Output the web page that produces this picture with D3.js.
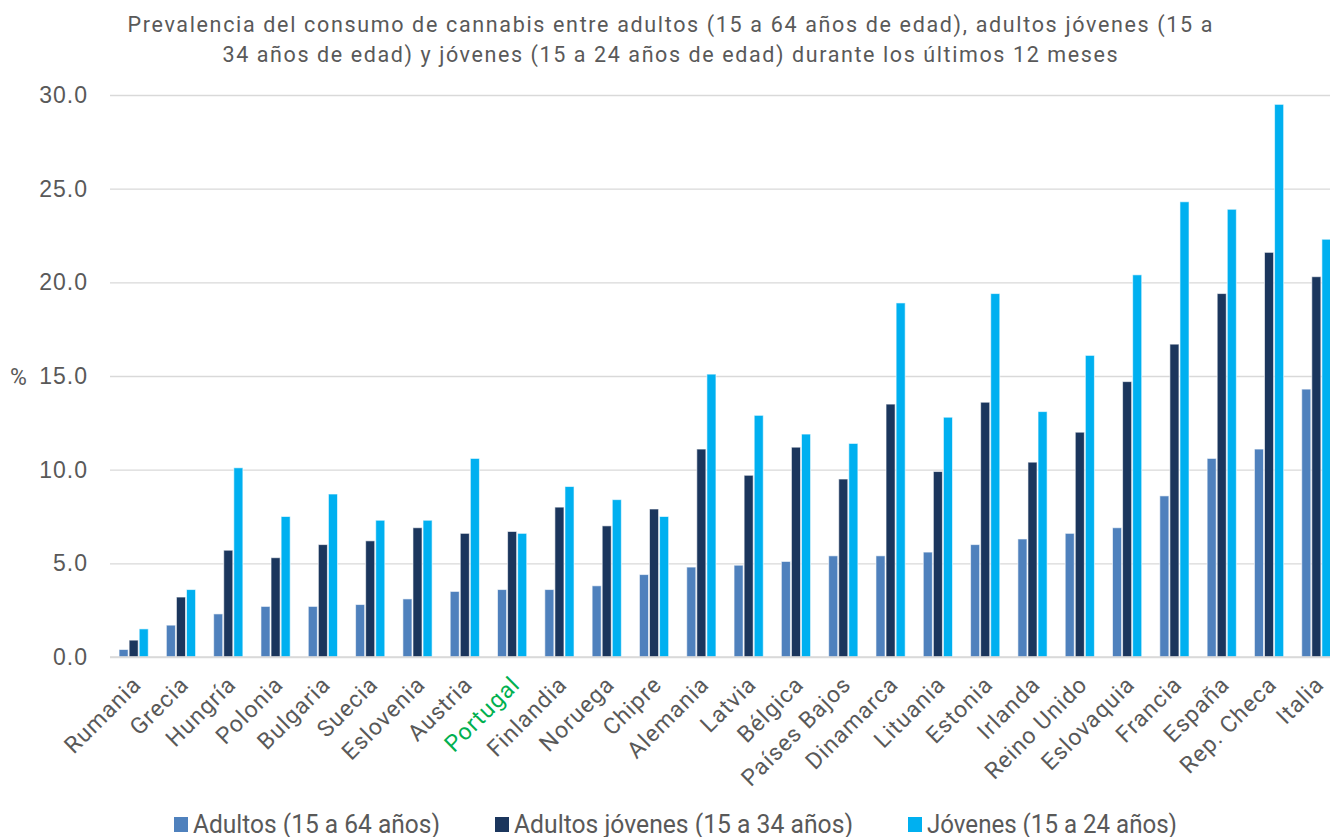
<!DOCTYPE html>
<html>
<head>
<meta charset="utf-8">
<script src="https://cdn.jsdelivr.net/npm/d3@7"></script>
<style>
  body { margin: 0; background: #fff; }
  svg { display: block; font-family: "Roboto", "Noto Sans", sans-serif; }
</style>
</head>
<body>
<svg id="chart" width="1330" height="837"></svg>
<script>
const countries = ["Rumania", "Grecia", "Hungría", "Polonia", "Bulgaria", "Suecia", "Eslovenia", "Austria",
  "Portugal", "Finlandia", "Noruega", "Chipre", "Alemania", "Latvia", "Bélgica", "Países Bajos",
  "Dinamarca", "Lituania", "Estonia", "Irlanda", "Reino Unido", "Eslovaquia", "Francia", "España",
  "Rep. Checa", "Italia"];

// Adultos (15 a 64 años)
const adultos = [0.4, 1.7, 2.3, 2.7, 2.7, 2.8, 3.1, 3.5, 3.6, 3.6, 3.8, 4.4, 4.8, 4.9, 5.1, 5.4,
  5.4, 5.6, 6.0, 6.3, 6.6, 6.9, 8.6, 10.6, 11.1, 14.3];
// Adultos jóvenes (15 a 34 años)
const adultosJovenes = [0.9, 3.2, 5.7, 5.3, 6.0, 6.2, 6.9, 6.6, 6.7, 8.0, 7.0, 7.9, 11.1, 9.7, 11.2, 9.5,
  13.5, 9.9, 13.6, 10.4, 12.0, 14.7, 16.7, 19.4, 21.6, 20.3];
// Jóvenes (15 a 24 años)
const jovenes = [1.5, 3.6, 10.1, 7.5, 8.7, 7.3, 7.3, 10.6, 6.6, 9.1, 8.4, 7.5, 15.1, 12.9, 11.9, 11.4,
  18.9, 12.8, 19.4, 13.1, 16.1, 20.4, 24.3, 23.9, 29.5, 22.3];

const seriesNames = ["Adultos (15 a 64 años)", "Adultos jóvenes (15 a 34 años)", "Jóvenes (15 a 24 años)"];
const seriesColors = ["#4f81bd", "#1b365d", "#00b0f0"];
const yTicks = [0, 5, 10, 15, 20, 25, 30];
const titleLines = [
  "Prevalencia del consumo de cannabis entre adultos (15 a 64 años de edad), adultos jóvenes (15 a",
  "34 años de edad) y jóvenes (15 a 24 años de edad) durante los últimos 12 meses"
];

const seriesData = [adultos, adultosJovenes, jovenes];
const rows = countries.map((c, i) => ({country: c, values: seriesData.map((s, k) => ({k: k, v: s[i]}))}));

const svg = d3.select("#chart");
const textColor = "#595959";

const x = d3.scaleBand().domain(countries).range([110, 1340]).paddingInner(0.34).paddingOuter(0.17);
const xs = d3.scaleBand().domain([0, 1, 2]).range([0, x.bandwidth()]).padding(0.1);
const y = d3.scaleLinear().domain([0, 30]).range([657, 95]);

// title
const titleWidths = [1085, 895];
svg.append("g").selectAll("text")
  .data(titleLines)
  .join("text")
  .attr("x", 670)
  .attr("y", (d, i) => 32 + i * 30)
  .attr("text-anchor", "middle")
  .attr("fill", textColor)
  .attr("textLength", (d, i) => titleWidths[i])
  .attr("lengthAdjust", "spacing")
  .style("font-size", "21.5px")
  .text(d => d);

// gridlines + y labels
const yAxis = svg.append("g")
  .attr("transform", "translate(110,0)")
  .call(d3.axisLeft(y).tickValues(yTicks).tickSize(-1230).tickFormat(d3.format(".1f")).tickPadding(22));
yAxis.select(".domain").remove();
yAxis.selectAll(".tick line").attr("stroke", "#d9d9d9").attr("stroke-width", 1.3);
yAxis.selectAll(".tick text").attr("fill", textColor).style("font-size", "23px").style("letter-spacing", "1px");

svg.append("text")
  .attr("x", 10).attr("y", 385)
  .attr("fill", textColor)
  .style("font-size", "23px")
  .text("%");

// bars
const groups = svg.append("g").selectAll("g")
  .data(rows)
  .join("g")
  .attr("transform", d => `translate(${x(d.country)},0)`);

groups.selectAll("rect")
  .data(d => d.values)
  .join("rect")
  .attr("x", d => xs(d.k))
  .attr("y", d => y(d.v))
  .attr("width", xs.bandwidth())
  .attr("height", d => y(0) - y(d.v))
  .attr("fill", d => seriesColors[d.k])
  .attr("stroke", "#ffffff")
  .attr("stroke-opacity", 0.6)
  .attr("stroke-width", 1);

// baseline
svg.append("line")
  .attr("x1", 110).attr("x2", 1340)
  .attr("y1", y(0)).attr("y2", y(0))
  .attr("stroke", "#d9d9d9").attr("stroke-width", 1.5);

// x labels
const xAxis = svg.append("g")
  .attr("transform", `translate(0,${y(0)})`)
  .call(d3.axisBottom(x).tickSize(0).tickPadding(0));
xAxis.select(".domain").remove();
xAxis.selectAll(".tick text")
  .attr("text-anchor", "end")
  .attr("dx", 0).attr("dy", 0)
  .attr("transform", "translate(9,29) rotate(-45)")
  .attr("fill", d => d === "Portugal" ? "#00b050" : textColor)
  .style("font-size", "23px")
  .style("letter-spacing", "1px")
  .style("font-family", "Roboto, sans-serif");

// legend
const legendX = [174, 495, 908];
const legendW = [247, 339, 250];
const legend = svg.append("g").selectAll("g")
  .data(seriesNames)
  .join("g")
  .attr("transform", (d, i) => `translate(${legendX[i]},817)`);
legend.append("rect")
  .attr("width", 14).attr("height", 15)
  .attr("fill", (d, i) => seriesColors[i]);
legend.append("text")
  .attr("x", 19).attr("y", 16)
  .attr("fill", textColor)
  .attr("textLength", (d, i) => legendW[i])
  .attr("lengthAdjust", "spacingAndGlyphs")
  .style("font-size", "25px")
  .text(d => d);
</script>
</body>
</html>
